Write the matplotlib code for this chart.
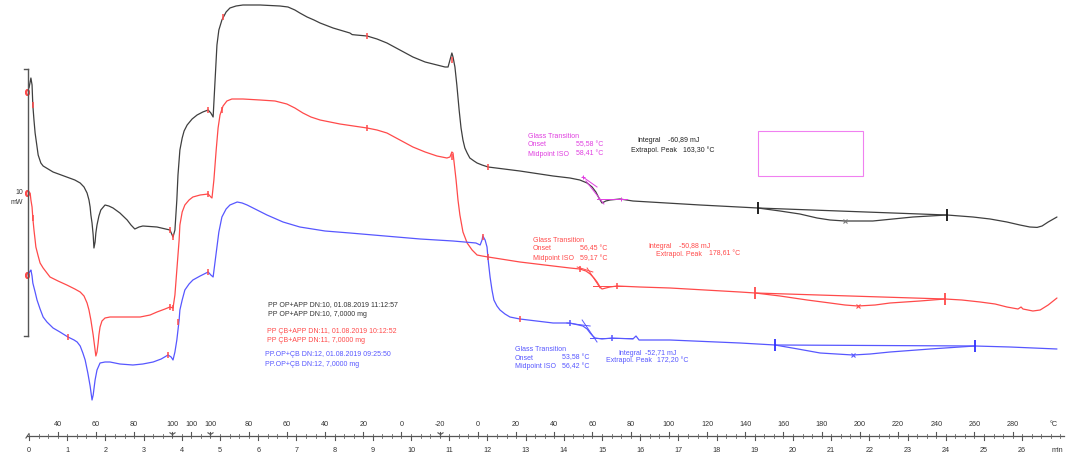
import matplotlib
matplotlib.use("Agg")
import matplotlib.pyplot as plt

plt.rcParams['font.family'] = ['Liberation Sans', 'DejaVu Sans']

# ---- DSC curves: time (min) vs heat flow (mW) ----
black_t = [0.00, 0.05, 0.08, 0.10, 0.13, 0.16, 0.21, 0.24, 0.31, 0.37, 0.50, 0.63, 0.99, 1.20,
           1.34, 1.44, 1.52, 1.57, 1.60, 1.62, 1.65, 1.68, 1.70, 1.73, 1.75, 1.78, 1.83, 1.88,
           1.99, 2.09, 2.20, 2.38, 2.57, 2.67, 2.77, 2.88, 2.98, 3.35, 3.69, 3.77, 3.82, 3.87,
           3.90, 3.95, 4.01, 4.06, 4.14, 4.27, 4.40, 4.55, 4.69, 4.76, 4.82, 4.87, 4.92, 4.97,
           5.05, 5.16, 5.26, 5.42, 5.60, 6.05, 6.57, 6.78, 6.96, 7.09, 7.28, 7.46, 7.62, 7.96,
           8.32, 8.40, 8.46, 8.56, 8.85, 9.11, 9.37, 9.71, 10.05, 10.37, 10.68, 10.89, 10.97,
           11.02, 11.07, 11.10, 11.15, 11.20, 11.26, 11.31, 11.36, 11.41, 11.47, 11.54, 11.65,
           11.73, 11.86, 12.02, 12.85, 13.72, 14.16, 14.42, 14.61, 14.74, 14.84, 14.92, 15.00,
           15.10, 15.21, 15.47, 15.81, 17.57, 19.08, 19.66, 20.18, 20.63, 20.97, 21.36, 21.75,
           22.09, 22.62, 23.14, 23.59, 24.03, 24.71, 25.16, 25.60, 25.94, 26.20, 26.39, 26.52,
           26.68, 26.91]
black_mw = [18.65, 19.15, 18.80, 17.80, 17.05, 16.40, 15.70, 15.30, 14.90, 14.75, 14.60, 14.45, 14.20, 14.05,
            13.90, 13.70, 13.40, 13.05, 12.70, 12.30, 11.90, 11.30, 10.65, 10.95, 11.40, 11.80, 12.25, 12.55,
            12.80, 12.75, 12.65, 12.40, 12.05, 11.80, 11.60, 11.70, 11.75, 11.70, 11.55, 11.20, 11.55, 13.05,
            14.30, 15.55, 16.15, 16.50, 16.80, 17.10, 17.30, 17.45, 17.55, 17.40, 17.20, 19.05, 20.80, 21.55,
            22.05, 22.45, 22.65, 22.75, 22.80, 22.80, 22.75, 22.70, 22.55, 22.40, 22.20, 22.05, 21.90, 21.65,
            21.45, 21.40, 21.32, 21.30, 21.25, 21.10, 20.90, 20.55, 20.20, 19.95, 19.80, 19.70, 19.70,
            20.05, 20.40, 20.20, 19.70, 18.80, 17.55, 16.65, 16.05, 15.65, 15.40, 15.15, 15.00,
            14.90, 14.80, 14.70, 14.50, 14.25, 14.15, 14.05, 13.90, 13.70, 13.45, 13.15, 12.90,
            13.00, 13.05, 13.10, 13.00, 12.80, 12.65, 12.50, 12.35, 12.15, 12.05, 12.00, 12.00,
            12.00, 12.10, 12.20, 12.25, 12.30, 12.20, 12.10, 11.95, 11.80, 11.70, 11.68, 11.75,
            11.95, 12.20]

red_t = [0.03, 0.05, 0.08, 0.10, 0.13, 0.16, 0.18, 0.24, 0.29, 0.37, 0.45, 0.55, 0.76, 0.99,
         1.20, 1.34, 1.44, 1.52, 1.57, 1.62, 1.68, 1.73, 1.75, 1.78, 1.81, 1.83, 1.86, 1.91,
         1.99, 2.12, 2.91, 3.17, 3.35, 3.56, 3.69, 3.77, 3.82, 3.87, 3.93, 3.95, 4.01, 4.08,
         4.19, 4.29, 4.48, 4.69, 4.76, 4.79, 4.84, 4.90, 4.95, 5.00, 5.08, 5.18, 5.31, 5.60,
         6.05, 6.44, 6.75, 6.96, 7.17, 7.38, 7.62, 8.14, 8.85, 9.11, 9.37, 9.71, 10.05, 10.37,
         10.68, 10.94, 11.02, 11.07, 11.10, 11.13, 11.18, 11.23, 11.28, 11.36, 11.47, 11.60,
         11.73, 11.86, 12.02, 12.85, 13.72, 14.16, 14.42, 14.58, 14.69, 14.79, 14.87, 14.95,
         15.00, 15.10, 15.21, 15.39, 15.99, 16.78, 18.61, 19.01, 19.66, 20.37, 20.97, 21.36,
         21.70, 22.15, 22.54, 23.32, 23.98, 24.42, 24.90, 25.29, 25.60, 25.89, 25.97, 26.02,
         26.28, 26.47, 26.68, 26.91]
red_mw = [13.40, 13.05, 12.70, 12.15, 11.55, 11.05, 10.70, 10.25, 9.90, 9.65, 9.45, 9.20, 9.00, 8.80,
          8.60, 8.45, 8.25, 7.90, 7.55, 7.05, 6.30, 5.55, 5.25, 5.45, 5.90, 6.30, 6.70, 7.00,
          7.15, 7.20, 7.20, 7.30, 7.45, 7.60, 7.70, 7.65, 8.30, 9.55, 11.05, 11.80, 12.45, 12.80,
          13.05, 13.20, 13.30, 13.35, 13.20, 13.15, 14.05, 15.55, 16.65, 17.30, 17.75, 18.00, 18.10, 18.10,
          18.05, 18.00, 17.85, 17.65, 17.40, 17.20, 17.05, 16.85, 16.65, 16.55, 16.40, 16.05, 15.70, 15.45,
          15.25, 15.15, 15.20, 15.45, 15.40, 14.90, 14.05, 13.05, 12.30, 11.45, 10.90, 10.55,
          10.30, 10.25, 10.20, 9.95, 9.75, 9.65, 9.60, 9.50, 9.35, 9.15, 8.95, 8.70,
          8.60, 8.65, 8.70, 8.75, 8.70, 8.65, 8.45, 8.40, 8.25, 8.05, 7.90, 7.80,
          7.75, 7.80, 7.90, 8.00, 8.10, 8.05, 7.95, 7.85, 7.70, 7.60, 7.70, 7.60,
          7.50, 7.55, 7.80, 8.15]

blue_t = [-0.03, 0.03, 0.05, 0.08, 0.10, 0.16, 0.21, 0.29, 0.37, 0.47, 0.63, 0.81, 1.02, 1.18,
          1.26, 1.34, 1.41, 1.47, 1.54, 1.60, 1.65, 1.68, 1.73, 1.78, 1.86, 1.99, 2.12, 2.38,
          2.72, 2.98, 3.25, 3.46, 3.64, 3.72, 3.77, 3.82, 3.87, 3.93, 3.95, 4.01, 4.08, 4.19,
          4.29, 4.48, 4.69, 4.76, 4.82, 4.87, 4.92, 4.97, 5.05, 5.16, 5.26, 5.45, 5.58, 5.71,
          5.97, 6.23, 6.65, 7.09, 7.75, 8.40, 9.32, 10.24, 11.10, 11.70, 11.81, 11.86, 11.88,
          11.94, 11.99, 12.02, 12.07, 12.12, 12.17, 12.25, 12.33, 12.46, 12.59, 12.85, 13.72,
          14.16, 14.50, 14.61, 14.69, 14.76, 14.82, 15.00, 15.26, 15.81, 15.89, 15.97, 16.78,
          18.61, 19.53, 20.13, 20.71, 21.57, 22.02, 22.54, 23.59, 24.76, 25.68, 26.91]
blue_mw = [9.30, 9.50, 9.55, 9.25, 8.90, 8.45, 8.05, 7.60, 7.20, 6.95, 6.65, 6.45, 6.20, 6.05,
           5.95, 5.75, 5.40, 5.05, 4.40, 3.75, 3.05, 3.30, 4.05, 4.55, 4.90, 4.95, 4.95, 4.85,
           4.80, 4.85, 4.95, 5.10, 5.30, 5.20, 5.05, 5.45, 6.05, 7.05, 7.55, 8.05, 8.55, 8.85,
           9.05, 9.25, 9.45, 9.30, 9.20, 9.95, 10.70, 11.45, 12.20, 12.60, 12.80, 12.95, 12.90, 12.80,
           12.55, 12.30, 11.95, 11.70, 11.50, 11.40, 11.25, 11.10, 11.00, 10.90, 10.80, 11.05, 11.25,
           11.05, 10.70, 10.05, 9.20, 8.55, 8.05, 7.75, 7.55, 7.35, 7.20, 7.10, 6.90,
           6.90, 6.75, 6.60, 6.40, 6.25, 6.15, 6.10, 6.15, 6.10, 6.25, 6.05, 6.05,
           5.90, 5.80, 5.60, 5.40, 5.30, 5.35, 5.45, 5.60, 5.75, 5.70, 5.60]

# ---- evaluation marks ----
start_t = [-0.05, -0.05, -0.05]
start_mw = [18.45, 13.40, 9.30]

eval_black_t = [0.10, 3.69, 3.77, 4.69, 5.08, 8.85, 11.07, 12.02]
eval_black_mw = [17.80, 11.55, 11.20, 17.55, 22.20, 21.25, 20.05, 14.70]
eval_red_t = [0.10, 3.69, 3.77, 4.69, 5.05, 8.85, 11.07, 12.02, 14.42, 15.39]
eval_red_mw = [12.15, 7.70, 7.65, 13.35, 17.55, 16.65, 15.20, 10.20, 9.60, 8.75]
eval_blue_t = [1.02, 3.64, 3.90, 4.69, 11.88, 12.85]
eval_blue_mw = [6.20, 5.30, 6.95, 9.45, 11.20, 7.10]
blue_tg_marks_t = [14.16, 15.26]
blue_tg_marks_mw = [6.90, 6.15]
black_tg_marks_t = [14.50, 15.50]
black_tg_marks_mw = [14.20, 13.10]

# glass transition tangents: (t0, t1, y0, y1)
black_tangents = [(14.50, 14.87, 14.20, 13.70), (14.58, 15.05, 14.00, 12.85), (14.87, 15.65, 13.10, 13.10)]
red_tangents = [(14.35, 14.76, 9.70, 9.45), (14.61, 14.95, 9.65, 8.65), (14.76, 15.65, 8.75, 8.75)]
blue_tangents = [(14.08, 14.69, 6.90, 6.75), (14.48, 14.87, 7.05, 5.95), (14.69, 15.81, 6.15, 6.15)]

# integration limits and extrapolated peak points
black_limits_t = [19.08, 24.03]
black_limits_mw = [12.65, 12.30]
red_limits_t = [19.01, 23.98]
red_limits_mw = [8.40, 8.10]
blue_limits_t = [19.53, 24.76]
blue_limits_mw = [5.80, 5.75]
peak_t = [21.36, 21.70, 21.57]
peak_mw = [12.00, 7.75, 5.30]

# ---- abscissa: time and temperature program ----
time_ticks = list(range(0, 27))
temp_labels = ['40', '60', '80', '100', '100', '100', '80', '60', '40', '20', '0', '-20',
               '0', '20', '40', '60', '80', '100', '120', '140', '160', '180', '200', '220',
               '240', '260', '280']
temp_label_t = [0.75, 1.75, 2.75, 3.75, 4.25, 4.75, 5.75, 6.75, 7.75, 8.75, 9.75, 10.75,
                11.75, 12.75, 13.75, 14.75, 15.75, 16.75, 17.75, 18.75, 19.75, 20.75, 21.75, 22.75,
                23.75, 24.75, 25.75]
segment_t = [3.75, 4.75, 10.75]

C_BLACK = '#3f3f3f'
C_RED = '#ff4a4a'
C_BLUE = '#5757ff'
C_MAG = '#e03ee0'

W, H = 1066, 461
fig = plt.figure(figsize=(W / 100, H / 100), dpi=100)
ax = fig.add_axes([0, 0, 1, 1])
ax.set_xlim(-29 / 38.2, (W - 29) / 38.2)
ax.set_ylim(0, H * 0.05)
ax.axis('off')


def fig_xy(x, y):
    return x / W, 1 - y / H


line_kw = dict(lw=0.9, solid_joinstyle='round', solid_capstyle='round')

# curves
ax.plot(black_t, black_mw, color=C_BLACK, **line_kw)
ax.plot(red_t, red_mw, color=C_RED, **line_kw)
ax.plot(blue_t, blue_mw, color=C_BLUE, **line_kw)

# integral baselines
ax.plot(black_limits_t, black_limits_mw, color=C_BLACK, lw=0.9)
ax.plot(red_limits_t, red_limits_mw, color=C_RED, lw=0.9)
ax.plot(blue_limits_t, blue_limits_mw, color=C_BLUE, lw=0.9)

# tangents
for tangents, col in ((black_tangents, C_MAG), (red_tangents, C_RED), (blue_tangents, C_BLUE)):
    for t0, t1, y0, y1 in tangents:
        ax.plot([t0, t1], [y0, y1], color=col, lw=0.7)

# marks
ax.plot(start_t, start_mw, ls='none', marker='$0$', ms=4, color=C_RED)
for tt, yy in ((eval_black_t, eval_black_mw), (eval_red_t, eval_red_mw), (eval_blue_t, eval_blue_mw)):
    ax.plot(tt, yy, ls='none', marker='|', ms=5, mew=1.1, color=C_RED)
ax.plot(blue_tg_marks_t, blue_tg_marks_mw, ls='none', marker='|', ms=5, mew=1.1, color=C_BLUE)
ax.plot(black_tg_marks_t, black_tg_marks_mw, ls='none', marker='+', ms=3, mew=0.7, color=C_MAG)
ax.plot(black_limits_t, black_limits_mw, ls='none', marker='|', ms=8, mew=1.3, color='#111111')
ax.plot(red_limits_t, red_limits_mw, ls='none', marker='|', ms=8, mew=1.3, color=C_RED)
ax.plot(blue_limits_t, blue_limits_mw, ls='none', marker='|', ms=8, mew=1.3, color='#3030ff')
for tt, yy, col in zip(peak_t, peak_mw, ['#777777', C_RED, C_BLUE]):
    ax.plot([tt], [yy], ls='none', marker='x', ms=3.5, mew=0.8, color=col)

# ordinate scale bar
sx = -0.026
ax.plot([sx, sx], [6.25, 19.6], color='#555555', lw=1.0)
ax.plot([sx - 0.1, sx], [19.6, 19.6], color='#555555', lw=1.0)
ax.plot([sx - 0.1, sx], [6.25, 6.25], color='#555555', lw=1.0)
ax.text(*fig_xy(23, 193), '10', transform=fig.transFigure, fontsize=5, color='#333333', ha='right', va='center')
ax.text(*fig_xy(23, 203), 'mW', transform=fig.transFigure, fontsize=5, color='#333333', ha='right', va='center')

# abscissa
ya = 1.25
ax.plot([-0.05, 27.1], [ya, ya], color='#555555', lw=0.9)
ax.plot([-0.08, 0.0], [ya - 0.1, ya + 0.12], color='#555555', lw=0.8)
minor = [i * 0.25 for i in range(0, 109)]
for m in minor:
    ax.plot([m, m], [ya - 0.1, ya + 0.1], color='#666666', lw=0.6)
for t in time_ticks:
    ax.plot([t, t], [ya - 0.22, ya], color='#555555', lw=0.8)
    ax.text(t, 0.55, str(t), fontsize=5.2, color='#333333', ha='center', va='center')
for t, lab in zip(temp_label_t, temp_labels):
    ax.plot([t, t], [ya, ya + 0.22], color='#555555', lw=0.8)
    ax.text(t, 1.85, lab, fontsize=5.2, color='#333333', ha='center', va='center')
ax.plot(segment_t, [ya + 0.08] * 3, ls='none', marker='1', ms=5, mew=0.8, color='#555555')
ax.text(26.82, 1.85, '°C', fontsize=5.2, color='#333333', ha='center', va='center')
ax.text(26.92, 0.55, 'min', fontsize=5.2, color='#333333', ha='center', va='center')

# evaluation boxes
fs = 5.0


def put(x, y, s, col, ha='left'):
    ax.text(*fig_xy(x, y), s, transform=fig.transFigure, fontsize=fs, color=col, ha=ha, va='center')


put(528, 136, 'Glass Transition', C_MAG)
put(528, 145, 'Onset', C_MAG)
put(576, 145, '55,58 °C', C_MAG)
put(528, 154, 'Midpoint ISO', C_MAG)
put(576, 154, '58,41 °C', C_MAG)
put(637, 140, 'Integral', '#222222')
put(668, 140, '-60,89 mJ', '#222222')
put(631, 151, 'Extrapol. Peak', '#222222')
put(683, 151, '163,30 °C', '#222222')

put(533, 240, 'Glass Transition', C_RED)
put(533, 249, 'Onset', C_RED)
put(580, 249, '56,45 °C', C_RED)
put(533, 259, 'Midpoint ISO', C_RED)
put(580, 259, '59,17 °C', C_RED)
put(648, 246, 'Integral', C_RED)
put(679, 246, '-50,88 mJ', C_RED)
put(656, 254, 'Extrapol. Peak', C_RED)
put(709, 254, '178,61 °C', C_RED)

put(515, 349, 'Glass Transition', C_BLUE)
put(515, 358, 'Onset', C_BLUE)
put(562, 358, '53,58 °C', C_BLUE)
put(515, 367, 'Midpoint ISO', C_BLUE)
put(562, 367, '56,42 °C', C_BLUE)
put(618, 353, 'Integral', C_BLUE)
put(645, 353, '-52,71 mJ', C_BLUE)
put(606, 361, 'Extrapol. Peak', C_BLUE)
put(657, 361, '172,20 °C', C_BLUE)

# empty selection frame
x0, y0 = fig_xy(758, 176)
x1, y1 = fig_xy(863, 131)
fig.patches.append(plt.Rectangle((x0, y0), x1 - x0, y1 - y0, transform=fig.transFigure,
                                 fill=False, edgecolor='#f080f0', lw=0.8))

# sample legend
put(268, 305, 'PP OP+APP DN:10, 01.08.2019 11:12:57', '#333333')
put(268, 314, 'PP OP+APP DN:10, 7,0000 mg', '#333333')
put(267, 331, 'PP ÇB+APP DN:11, 01.08.2019 10:12:52', C_RED)
put(267, 341, 'PP ÇB+APP DN:11, 7,0000 mg', C_RED)
put(265, 355, 'PP.OP+ÇB DN:12, 01.08.2019 09:25:50', C_BLUE)
put(265, 364, 'PP.OP+ÇB DN:12, 7,0000 mg', C_BLUE)

fig.savefig('out.png', dpi=100)
